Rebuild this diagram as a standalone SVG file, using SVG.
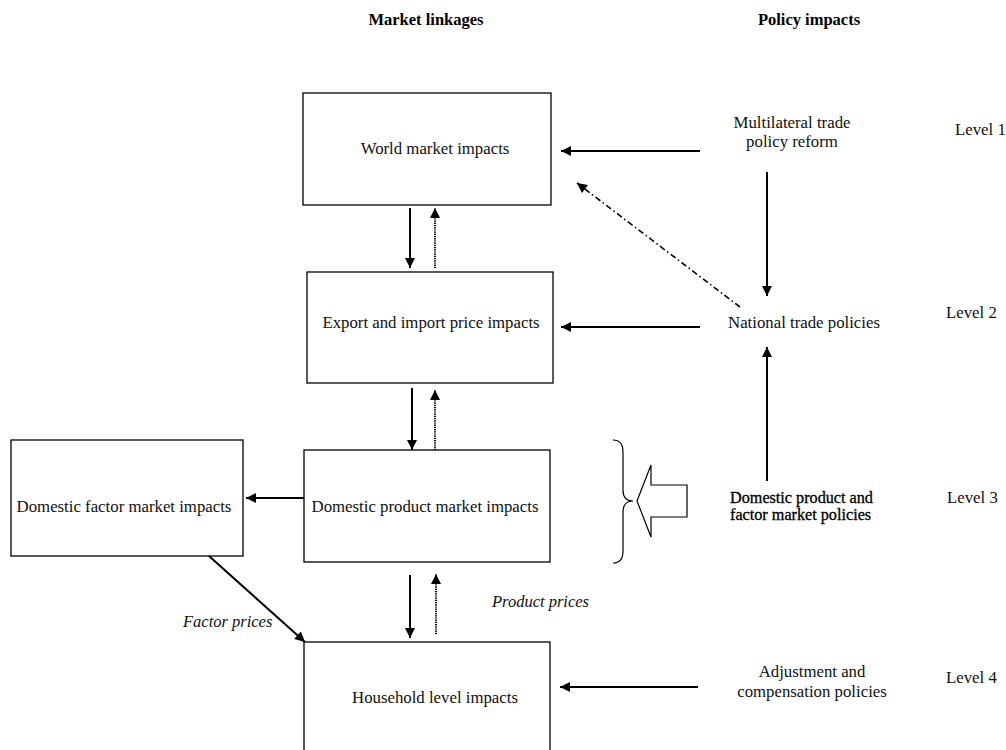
<svg xmlns="http://www.w3.org/2000/svg" width="1006" height="750" viewBox="0 0 1006 750">
<style>
.box{fill:#fff;stroke:#000;stroke-width:1.3}
.t{font-family:"Liberation Serif","Times New Roman",serif;font-size:16.8px;fill:#111}
.hd{font-family:"Liberation Serif","Times New Roman",serif;font-size:16.5px;font-weight:bold;fill:#000}
.it{font-family:"Liberation Serif","Times New Roman",serif;font-size:16.5px;font-style:italic;fill:#111}
.bd{font-family:"Liberation Serif","Times New Roman",serif;font-size:16.2px;fill:#000;stroke:#000;stroke-width:0.3}
.solid{fill:none;stroke:#000;stroke-width:2}
.dot{fill:none;stroke:#000;stroke-width:2;stroke-dasharray:1.2 1}
.dd{fill:none;stroke:#000;stroke-width:1.6;stroke-dasharray:6 3 1.5 3}
</style>
<defs>
<marker id="ah" viewBox="0 0 10 10" refX="10" refY="5" markerWidth="11" markerHeight="10" markerUnits="userSpaceOnUse" orient="auto">
<path d="M0,0 L10,5 L0,10 z" fill="#000"/>
</marker>
</defs>
<g id="headers">
<text class="hd" x="426" y="25" text-anchor="middle">Market linkages</text>
<text class="hd" x="809" y="25" text-anchor="middle">Policy impacts</text>
</g>
<g id="world">
<rect class="box" x="303" y="93" width="248" height="112"/>
<text class="t" x="435" y="154" text-anchor="middle">World market impacts</text>
</g>
<g id="export">
<rect class="box" x="307" y="272" width="246" height="111"/>
<text class="t" x="431" y="328" text-anchor="middle">Export and import price impacts</text>
</g>
<g id="factor">
<rect class="box" x="11" y="440" width="232" height="116"/>
<text class="t" x="124" y="512" text-anchor="middle">Domestic factor market impacts</text>
</g>
<g id="product">
<rect class="box" x="304" y="450" width="246" height="112"/>
<text class="t" x="425" y="512" text-anchor="middle">Domestic product market impacts</text>
</g>
<g id="household">
<rect class="box" x="304" y="642" width="246" height="130"/>
<text class="t" x="435" y="703" text-anchor="middle">Household level impacts</text>
</g>
<g id="multilateral">
<text class="t" x="792" y="128" text-anchor="middle">Multilateral trade</text>
<text class="t" x="792" y="147" text-anchor="middle">policy reform</text>
</g>
<g id="national">
<text class="t" x="804" y="328" text-anchor="middle">National trade policies</text>
</g>
<g id="domestic-policies">
<text class="bd" x="730" y="503">Domestic product and</text>
<text class="bd" x="730" y="520">factor market policies</text>
</g>
<g id="adjustment">
<text class="t" x="812" y="677" text-anchor="middle">Adjustment and</text>
<text class="t" x="812" y="697" text-anchor="middle">compensation policies</text>
</g>
<g id="levels">
<text class="t" x="955" y="135">Level 1</text>
<text class="t" x="946" y="318">Level 2</text>
<text class="t" x="947" y="503">Level 3</text>
<text class="t" x="946" y="683">Level 4</text>
</g>
<g id="brace-arrow">
<path d="M613,440 Q623,440 623,452 L623,490 Q623,501 633,501 Q623,501 623,512 L623,551 Q623,563 613,563" fill="none" stroke="#000" stroke-width="1.2"/>
<path d="M637,501 L651,465 L651,485 L687,485 L687,517 L651,517 L651,537 Z" fill="#fff" stroke="#000" stroke-width="1.2"/>
</g>
<g id="connectors">
<line class="solid" x1="410" y1="208" x2="410" y2="268" marker-end="url(#ah)"/>
<line class="dot" x1="435" y1="268" x2="435" y2="208" marker-end="url(#ah)"/>
<line class="solid" x1="412" y1="388" x2="412" y2="450" marker-end="url(#ah)"/>
<line class="dot" x1="435" y1="450" x2="435" y2="390" marker-end="url(#ah)"/>
<line class="solid" x1="304" y1="498" x2="246" y2="498" marker-end="url(#ah)"/>
<line class="solid" x1="410" y1="575" x2="410" y2="638" marker-end="url(#ah)"/>
<line class="dot" x1="436" y1="634" x2="436" y2="574" marker-end="url(#ah)"/>
<line class="solid" x1="209" y1="556" x2="305" y2="642" marker-end="url(#ah)"/>
<line class="solid" x1="700" y1="151" x2="561" y2="151" marker-end="url(#ah)"/>
<line class="solid" x1="767" y1="172" x2="767" y2="296" marker-end="url(#ah)"/>
<line class="dd" x1="740" y1="307" x2="577" y2="183" marker-end="url(#ah)"/>
<line class="solid" x1="700" y1="327" x2="561" y2="327" marker-end="url(#ah)"/>
<line class="solid" x1="767" y1="481" x2="767" y2="347" marker-end="url(#ah)"/>
<line class="solid" x1="698" y1="687" x2="560" y2="687" marker-end="url(#ah)"/>
</g>
<g id="labels">
<text class="it" x="183" y="627">Factor prices</text>
<text class="it" x="492" y="607">Product prices</text>
</g>
</svg>
